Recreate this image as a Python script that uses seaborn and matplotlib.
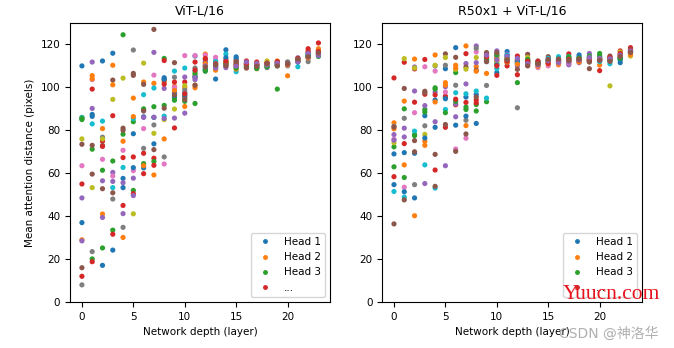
import matplotlib
matplotlib.use("Agg")
import matplotlib.pyplot as plt
from matplotlib.lines import Line2D
import pandas as pd
import seaborn as sns

titles = ["ViT-L/16", "R50x1 + ViT-L/16"]
x_label = "Network depth (layer)"
y_label = "Mean attention distance (pixels)"
layers = list(range(24))
heads = [f"Head {i}" for i in range(1, 17)]
legend_labels = ["Head 1", "Head 2", "Head 3", "..."]

# rows: layers 0..23 ; columns: heads 1..16
vit_dist = [
    [110, 86, 85, 55, 48.5, 73.5, 63.5, 8, 76, 86, 37, 29, 85.5, 12, 28.5, 16],
    [87.4, 105.5, 71.2, 99.2, 111.8, 73, 103.6, 23.5, 53.3, 83, 86.5, 104, 20.1, 18.8, 90.2, 59.6],
    [112.3, 80.8, 61.4, 74.9, 56.5, 72.9, 66.5, 76.8, 76, 84.3, 17.1, 41, 25.2, 72.5, 39.4, 52.8],
    [115.9, 110.3, 65.7, 86.8, 60.4, 103.4, 58.7, 48, 94.4, 53.3, 24.2, 101.2, 33.5, 31.6, 56.2, 50.9],
    [57.6, 74.9, 124.5, 67.3, 55.6, 81, 70.7, 34.8, 104.3, 62.7, 53.3, 30.1, 78.2, 45, 41.2, 80],
    [78.4, 95, 84, 67.6, 57.7, 106.5, 61.2, 117.4, 41.1, 85.5, 62.6, 86.4, 52, 50.5, 49.6, 105.6],
    [86.3, 102.5, 64.5, 69.3, 89.5, 101.4, 80.8, 71.6, 111.3, 96.6, 62.5, 63.5, 90, 59.8, 86, 89],
    [73.7, 101.9, 91, 67, 116.3, 127, 105.7, 82.5, 78.6, 99.7, 86, 59.2, 65.5, 63.7, 86.1, 71],
    [104.5, 102.5, 113.5, 112.5, 99.5, 103.5, 64.3, 67.6, 85, 86.6, 103.8, 76, 91.6, 101.5, 85.5, 90.3],
    [97.5, 100.5, 95, 102.5, 99.7, 111.5, 100, 104.7, 89.9, 107.6, 96, 98.5, 94, 81.1, 85.7, 96.5],
    [97.5, 100, 95, 102.5, 104.8, 95.8, 114.8, 98.9, 100.8, 109, 96.5, 91.1, 93.5, 97, 88, 94.3],
    [114.6, 99.8, 92.5, 111.8, 103.6, 104.9, 114.8, 109, 106, 107.6, 105, 101, 106.5, 108, 104.5, 101],
    [109, 115.5, 107.5, 111.5, 112, 113, 115, 110.5, 110, 108.5, 108, 111, 108, 113.5, 110, 109.5],
    [103.9, 110, 109, 110, 112.5, 111.5, 114, 111, 108.5, 112, 109.5, 108, 110.5, 111, 109, 110.5],
    [117.5, 113, 112.3, 110.7, 109.2, 111.2, 112.5, 110.5, 111.5, 115.5, 113.8, 111.5, 111, 112, 110, 110],
    [114.2, 112, 111, 112.5, 109.5, 110, 111.5, 111, 110.5, 107.3, 113.4, 108.5, 109, 110.5, 110, 112],
    [111.3, 109.2, 111.5, 112.3, 110.8, 110.5, 111, 110, 109.8, 110.2, 109.5, 110.7, 109.5, 111, 111.8, 109],
    [110.2, 108.7, 109.5, 111.8, 110, 110.5, 110.5, 111, 110, 109.5, 109, 110.8, 108.8, 110.5, 111, 109.8],
    [110.5, 111.5, 110, 110.8, 109.2, 110.5, 111, 110.2, 112.3, 109.8, 111, 110.2, 109.5, 111.3, 110.5, 111],
    [110.3, 112.3, 99.2, 111, 110.5, 111.5, 110.8, 111.3, 112, 110.6, 111.6, 110.8, 110, 112, 111.2, 110],
    [110.7, 105.4, 111, 111.5, 110, 111.8, 110.5, 111.2, 110.8, 110.3, 111.3, 110.4, 111.6, 110.9, 111.4, 111],
    [112.2, 112.8, 112.3, 112, 113.8, 112.7, 113.3, 112.5, 113, 109.6, 111.8, 112.4, 112.9, 113.5, 112, 113.2],
    [114.5, 116.5, 114, 118, 113.5, 115, 116, 112, 115.5, 116.2, 115.2, 113.8, 114.7, 116.8, 115.8, 114.2],
    [116.8, 118, 114.4, 120.7, 116.2, 115.4, 117, 115.8, 116.5, 117.3, 115, 117.5, 115.7, 116.7, 114.9, 116],
]

hybrid_dist = [
    [69, 83.5, 72.3, 104.4, 78, 36.4, 75.8, 81.9, 74.2, 51.5, 54.7, 80.7, 63, 58.4, 75.4, 81.5],
    [69.6, 93.6, 90, 111.7, 81, 99.5, 53.5, 85.6, 113.4, 48.9, 51.4, 63.9, 58, 73.8, 76.9, 47.6],
    [69.3, 113.2, 78, 108.6, 109.5, 75.2, 88.2, 54.7, 109, 79.6, 48.5, 40.2, 77.5, 93.1, 98.3, 70],
    [86.8, 74.9, 89.7, 113, 91.5, 98.2, 109.6, 82.1, 78.1, 63.9, 76.4, 73, 88.5, 96.8, 55.2, 97.5],
    [94.1, 115.1, 99.8, 61.5, 97.8, 68.8, 107.6, 110, 110.3, 53.1, 81.4, 93.2, 99.2, 96.5, 84, 53.9],
    [108.7, 102.2, 95.2, 95.9, 100.3, 115.6, 97.8, 110.3, 113.9, 89.7, 94.7, 101, 88.2, 81.4, 63.5, 82.7],
    [118.5, 110.3, 106.9, 91.9, 92.3, 114, 71.3, 101, 108.4, 97.5, 82.4, 109, 93.5, 94.5, 86.3, 70.2],
    [95.5, 119.3, 90.8, 115.7, 111.1, 109.5, 76.3, 84.7, 108.5, 97, 86.6, 82.2, 89.7, 93, 101.6, 78.3],
    [96.7, 109.7, 89, 94.2, 119.3, 108, 116.5, 118.2, 113.9, 98.3, 83.2, 107.5, 92, 92.8, 111.5, 95.5],
    [113, 106.5, 93.3, 115.5, 112.6, 116.2, 114.5, 100.9, 113.8, 95, 112, 114.8, 113.2, 114.2, 115, 112],
    [106.9, 112.5, 111.1, 105.6, 117, 113.9, 114.5, 115.5, 112, 108.7, 110.5, 113.2, 115, 110, 112.8, 116.2],
    [116.7, 113.4, 112.5, 110, 115.4, 111.5, 112.8, 113.8, 114, 115, 114.6, 111.8, 113, 112.2, 114.4, 112.9],
    [111, 112, 112.8, 114.6, 110, 111.5, 112.5, 90.5, 113, 111.8, 112.3, 110.8, 102.2, 105.9, 113.5, 108.4],
    [112, 111, 112.5, 111.5, 112.3, 115.4, 110.5, 111.8, 113.9, 112.8, 111.2, 110.2, 113, 112.2, 111, 110],
    [111.5, 110.5, 111, 110.7, 111.8, 112.3, 109.2, 111.2, 110.2, 112, 110.8, 109.8, 111.4, 112.1, 110.4, 111],
    [112.2, 112, 111.5, 112.8, 111.3, 114.3, 110, 112, 111.8, 113.5, 113, 111, 112.5, 111.2, 112.4, 113],
    [111.8, 110.5, 112, 111.3, 112.5, 112, 111, 112.2, 111.5, 114.3, 112.8, 111.2, 113, 112.6, 111.6, 113.2],
    [112.5, 111, 113.4, 115.6, 110.5, 112, 111.4, 112.8, 113.2, 114.4, 113.8, 112.2, 114.2, 113, 111.8, 112.5],
    [115.1, 112.5, 112, 113, 111.5, 113.4, 112.2, 112.8, 113.8, 112.4, 114.2, 111.8, 113.6, 112.7, 112.9, 113.2],
    [112.5, 113.5, 112.8, 113.7, 115.8, 108.7, 112, 113, 112.2, 114.2, 113.1, 112.6, 114.6, 112.4, 113.9, 111.8],
    [112.5, 110.4, 115.8, 107.8, 113.2, 113.4, 112.4, 112.8, 113.6, 112, 114.3, 113.6, 114.8, 112.9, 113.5, 112.6],
    [113.2, 112.6, 113.6, 112.8, 114, 114.6, 112.3, 113, 100.7, 111, 112.9, 113.5, 112.5, 113.9, 113.3, 112.1],
    [111.5, 114.2, 113.2, 117, 113.9, 115.4, 114.6, 114, 116.5, 113.4, 112.8, 114.8, 113.6, 115.8, 115, 114.4],
    [116.5, 115.5, 116.2, 118.5, 117, 117.7, 116.8, 116.4, 114.6, 116, 117.2, 115.2, 116.6, 117.4, 116.9, 116.3],
]


def to_frame(table):
    rows = []
    for h, head in enumerate(heads):
        for layer in layers:
            rows.append({"layer": layer, "head": head, "dist": table[layer][h]})
    return pd.DataFrame(rows)


FS = 7.5
plt.rcParams["font.size"] = FS
tab10 = sns.color_palette("tab10", 10)
palette = {head: tab10[i % 10] for i, head in enumerate(heads)}

fig = plt.figure(figsize=(6.74, 3.48), dpi=100)
ax1 = fig.add_axes([0.104, 0.132, 0.386, 0.802])
ax2 = fig.add_axes([0.567, 0.132, 0.386, 0.802])

for ax, table, title in zip([ax1, ax2], [vit_dist, hybrid_dist], titles):
    df = to_frame(table)
    sns.scatterplot(data=df, x="layer", y="dist", hue="head", palette=palette,
                    s=14, linewidth=0, legend=False, ax=ax)
    ax.set_ylim(0, 130)
    ax.set_xticks([0, 5, 10, 15, 20])
    ax.set_yticks([0, 20, 40, 60, 80, 100, 120])
    ax.tick_params(labelsize=FS)
    ax.set_title(title, fontsize=9)
    ax.set_xlabel(x_label, fontsize=FS)
    ax.set_ylabel("")
    handles = [Line2D([], [], marker=".", linestyle="", color=tab10[i], markersize=5)
               for i in range(len(legend_labels))]
    ax.legend(handles, legend_labels, loc="lower right", fontsize=FS)

ax1.set_ylabel(y_label, fontsize=FS)

fig.text(0.835, 0.14, "Yuucn.com", color="#e8121c", fontsize=15.5,
         family=["Liberation Serif", "DejaVu Serif"], zorder=20)
fig.text(0.83, 0.03, "CSDN @神洛华", color="#b0b0b0", fontsize=10,
         family=["DejaVu Sans", "Noto Sans CJK SC"], zorder=20)

fig.savefig("out.png", dpi=100)
